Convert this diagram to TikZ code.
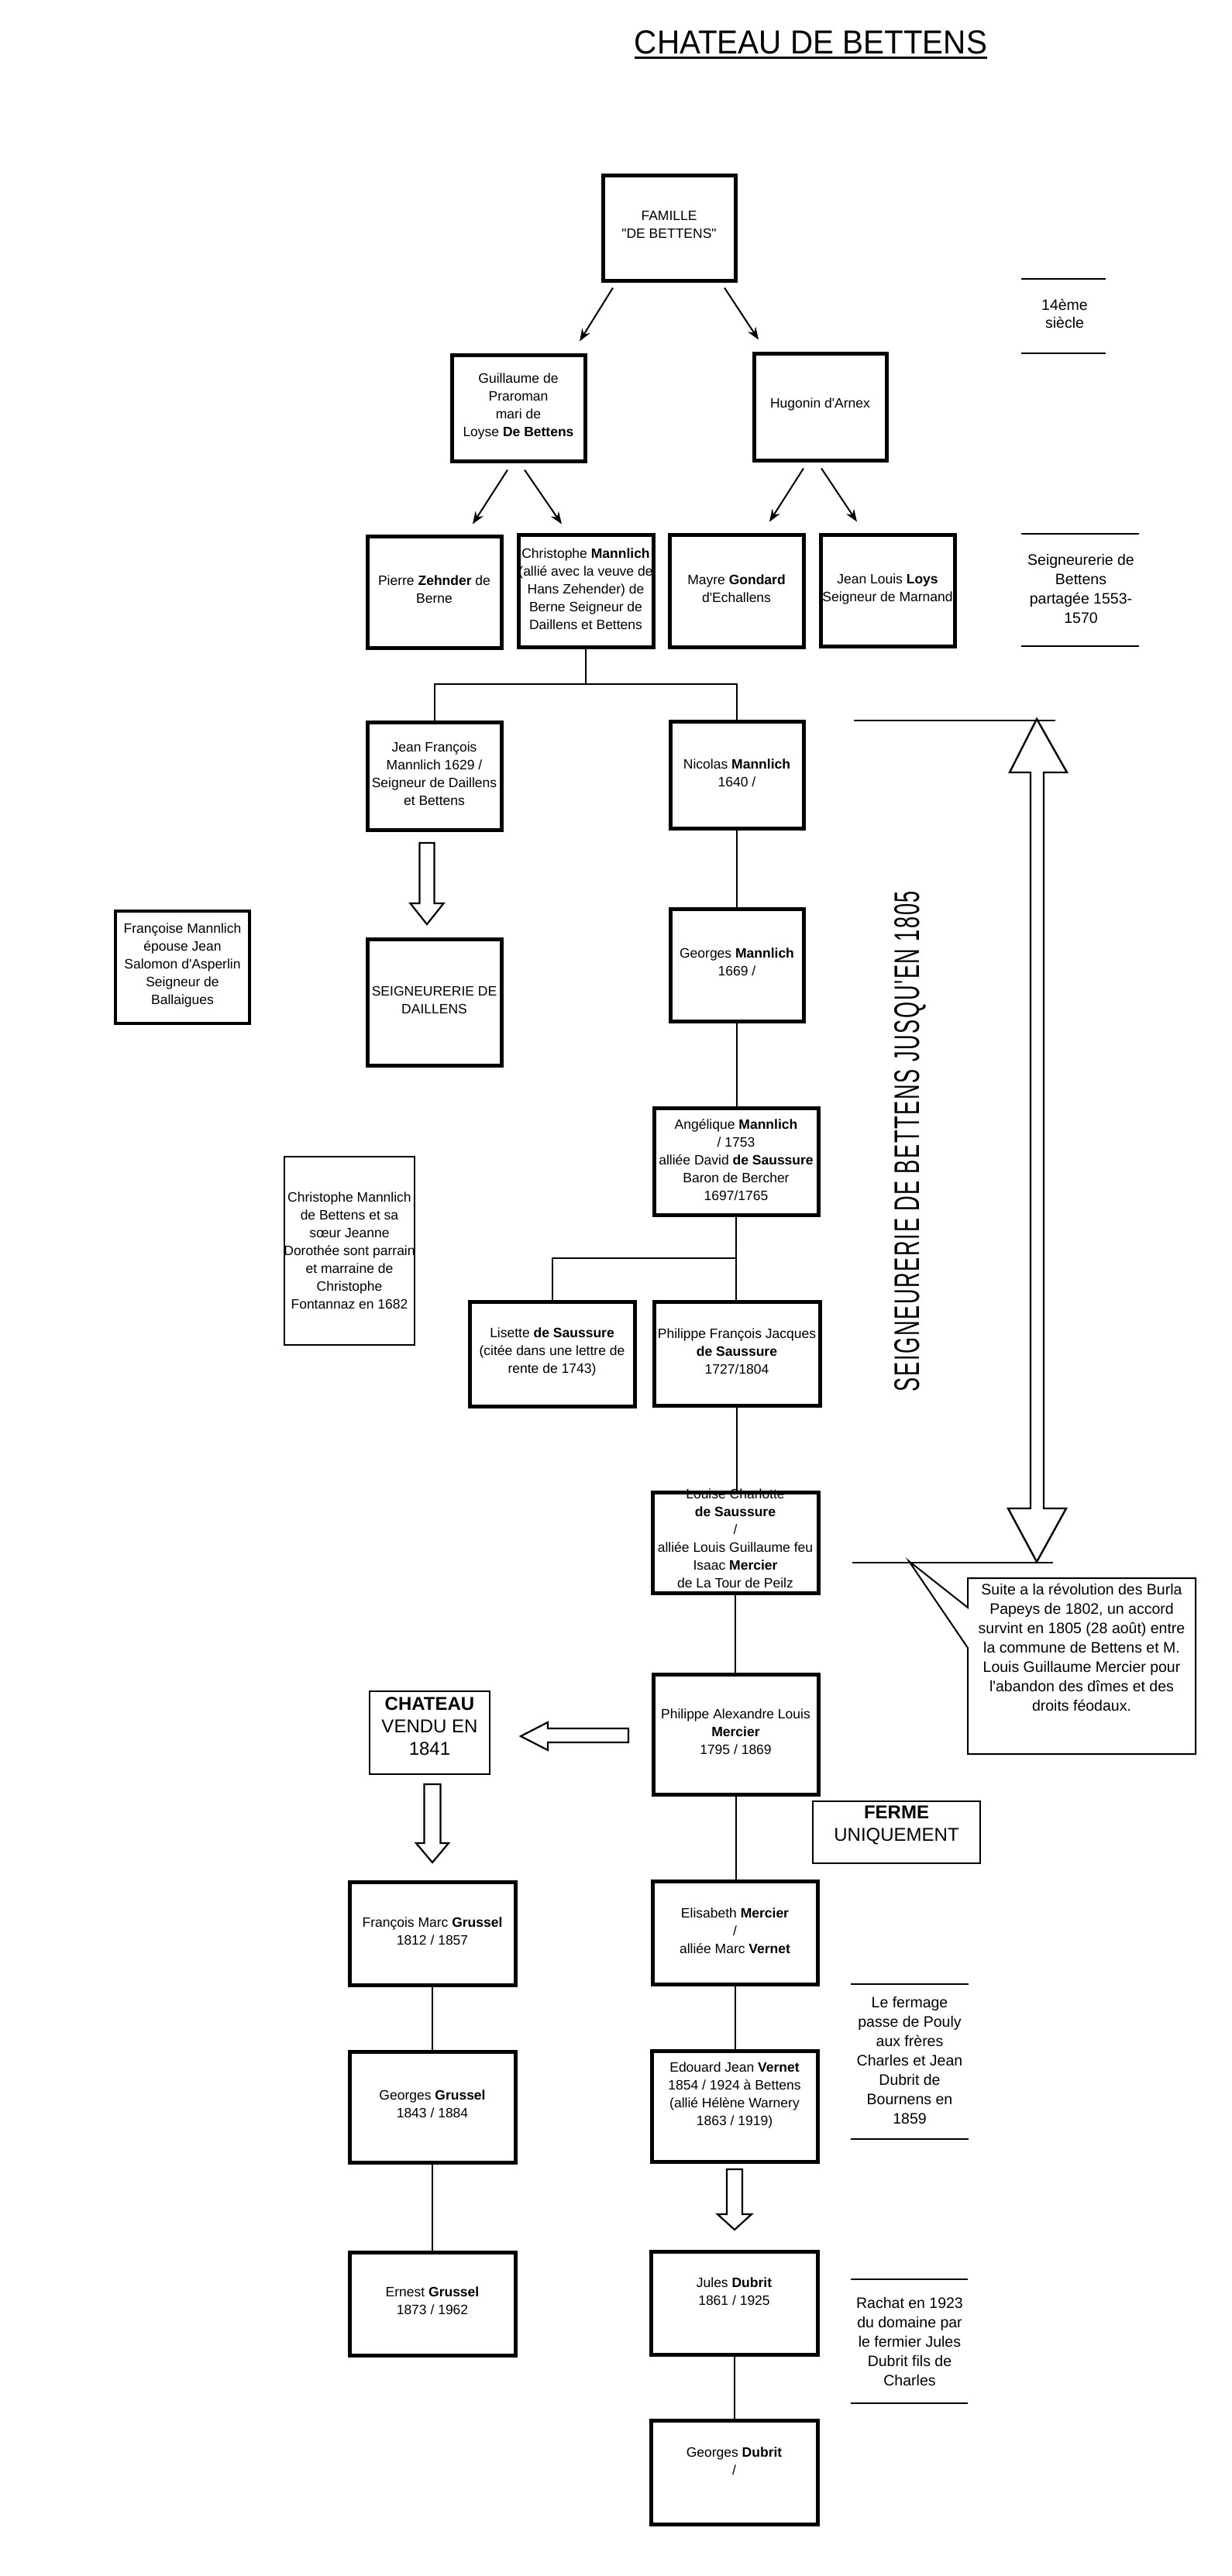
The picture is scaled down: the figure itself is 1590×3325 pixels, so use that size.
\documentclass[tikz,border=0pt]{standalone}
\usepackage{fontspec}
\usepackage{graphicx}
\setmainfont{Liberation Sans}[Ligatures=TeXOff]
\newfontfamily\spacedfont{Liberation Sans}[Ligatures=TeXOff,LetterSpace=6]
\usetikzlibrary{arrows.meta}
\newcommand\bx[8][mbox]{%
  \node[#1t] (#2t) at ({(#3+#5)/2},#7) {#8};
  \pgfmathsetmacro\bxw{(#5-#3-4)*0.5}%
  \pgfmathsetmacro\bxh{(#6-#4-4)*0.5}%
  \node[#1, minimum width=\bxw pt, minimum height=\bxh pt] (#2) at ({(#3+#5)/2},{(#4+#6)/2}) {};}
\begin{document}
\begin{tikzpicture}[x=0.5pt,y=-0.5pt,
  mbox/.style={draw, line width=2.5pt, inner sep=0pt},
  fbox/.style={draw, line width=1.8pt, inner sep=0pt},
  lbox/.style={draw, line width=1.2pt, inner sep=0pt},
  bbox/.style={draw, line width=1.2pt, inner sep=0pt},
  mboxt/.style={inner sep=0pt, align=center, font=\fontsize{8.75}{11.5}\selectfont},
  fboxt/.style={mboxt},
  lboxt/.style={mboxt},
  bboxt/.style={inner sep=0pt, align=center, font=\fontsize{12}{14.5}\selectfont},
  note/.style={inner sep=0pt, align=center, font=\fontsize{9.75}{12.5}\selectfont},
  rule/.style={line width=1.4pt},
  conn/.style={line width=1pt},
  arr/.style={line width=1pt, -{Stealth[length=8pt,width=6pt]}},
  hol/.style={draw, line width=1.1pt, line join=miter, fill=white}]
\useasboundingbox (0,0) rectangle (1590,3325);
\fill[white] (0,0) rectangle (1590,3325);

% title
\node[inner sep=0pt] (title) at (1046.5,54.5) {\resizebox{227.5pt}{15pt}{CHATEAU DE BETTENS}};
\draw[line width=1.6pt] ([shift={(0,4.5)}]title.south west) -- ([shift={(0,4.5)}]title.south east);

% boxes
\bx{famille}{776}{224}{951}{364}{290}{FAMILLE\\"DE BETTENS"}
\bx{guil}{581}{456}{757}{597}{524}{Guillaume de\\Praroman\\mari de\\Loyse \textbf{De Bettens}}
\bx{hugo}{971}{454}{1146}{596}{522}{Hugonin d'Arnex}
\bx{pierre}{472}{690}{649}{838}{761}{Pierre \textbf{Zehnder} de\\Berne}
\bx{chris}{667}{688}{845}{837}{760}{Christophe \textbf{Mannlich}\\(allié avec la veuve de\\Hans Zehender) de\\Berne Seigneur de\\Daillens et Bettens}
\bx{mayre}{862}{688}{1039}{837}{760}{Mayre \textbf{Gondard}\\d'Echallens}
\bx{loys}{1057}{688}{1234}{836}{760}{Jean Louis \textbf{Loys}\\Seigneur de Marnand}
\bx{jf}{472}{930}{649}{1073}{999}{Jean François\\Mannlich 1629 /\\Seigneur de Daillens\\et Bettens}
\bx{nic}{863}{929}{1039}{1071}{998}{Nicolas \textbf{Mannlich}\\1640 /}
\bx{dail}{472}{1210}{649}{1377}{1291}{SEIGNEURERIE DE\\DAILLENS}
\bx[fbox]{franc}{147}{1174}{324}{1323}{1246}{Françoise Mannlich\\épouse Jean\\Salomon d'Asperlin\\Seigneur de\\Ballaigues}
\bx{geo}{863}{1171}{1039}{1320}{1242}{Georges \textbf{Mannlich}\\1669 /}
\bx{ang}{842}{1428}{1058}{1570}{1497}{Angélique \textbf{Mannlich}\\/ 1753\\alliée David \textbf{de Saussure}\\Baron de Bercher\\1697/1765}
\bx[lbox]{chrisl}{365}{1491}{537}{1738}{1614}{Christophe Mannlich\\de Bettens et sa\\sœur Jeanne\\Dorothée sont parrain\\et marraine de\\Christophe\\Fontannaz en 1682}
\bx{lis}{604}{1678}{821}{1817}{1745}{Lisette \textbf{de Saussure}\\(citée dans une lettre de\\rente de 1743)}
\bx{phf}{842}{1678}{1060}{1816}{1744}{Philippe François Jacques\\\textbf{de Saussure}\\1727/1804}
\bx{lou}{840}{1924}{1058}{2058}{1986}{Louise Charlotte\\\textbf{de Saussure}\\/\\alliée Louis Guillaume feu\\Isaac \textbf{Mercier}\\de La Tour de Peilz}
\bx{pha}{841}{2159}{1058}{2318}{2235}{Philippe Alexandre Louis\\\textbf{Mercier}\\1795 / 1869}
\bx[bbox]{chat}{475}{2181}{634}{2292}{2228}{\textbf{CHATEAU}\\VENDU EN\\1841}
\bx[bbox]{ferme}{1047}{2323}{1267}{2407}{2356}{\textbf{FERME}\\UNIQUEMENT}
\bx{fmg}{449}{2427}{667}{2564}{2493}{François Marc \textbf{Grussel}\\1812 / 1857}
\bx{eli}{840}{2426}{1057}{2563}{2492}{Elisabeth \textbf{Mercier}\\/\\alliée Marc \textbf{Vernet}}
\bx{ggr}{449}{2646}{667}{2793}{2716}{Georges \textbf{Grussel}\\1843 / 1884}
\bx{edo}{839}{2645}{1057}{2792}{2704}{Edouard Jean \textbf{Vernet}\\1854 / 1924 à Bettens\\(allié Hélène Warnery\\1863 / 1919)}
\bx{ern}{449}{2905}{667}{3042}{2970}{Ernest \textbf{Grussel}\\1873 / 1962}
\bx{jul}{838}{2904}{1057}{3041}{2958}{Jules \textbf{Dubrit}\\1861 / 1925}
\bx{gdu}{838}{3122}{1057}{3260}{3177}{Georges \textbf{Dubrit}\\/}

% arrows from parents
\draw[arr] ([shift={(-72.5,7)}]famille.south) -- ([shift={(79,-15)}]guil.north);
\draw[arr] ([shift={(71.5,7)}]famille.south) -- ([shift={(-79.5,-15)}]hugo.north);
\draw[arr] ([shift={(-14,9)}]guil.south) -- ([shift={(49.5,-13)}]pierre.north);
\draw[arr] ([shift={(8,9)}]guil.south) -- ([shift={(-31,-11)}]chris.north);
\draw[arr] ([shift={(-21.5,8)}]hugo.south) -- ([shift={(42.5,-14)}]mayre.north);
\draw[arr] ([shift={(1.5,8)}]hugo.south) -- ([shift={(-39.5,-14)}]loys.north);

% tree connectors
\path (chris.south) ++(0,45) coordinate (j1);
\draw[conn] (chris.south) -- (j1);
\draw[conn] (jf.north) -- (jf.north |- j1) -- (nic.north |- j1) -- (nic.north);
\draw[conn] (nic.south) -- (nic.south |- geo.north);
\draw[conn] (geo.south) -- (geo.south |- ang.north);
\path (ang.south) ++(0,53) coordinate (j2);
\draw[conn] (ang.south) -- (ang.south |- phf.north);
\draw[conn] (j2) -| (lis.north);
\draw[conn] (phf.south) -- (phf.south |- lou.north);
\draw[conn] (lou.south) -- (lou.south |- pha.north);
\draw[conn] (pha.south) -- (pha.south |- eli.north);
\draw[conn] (eli.south) -- (eli.south |- edo.north);
\draw[conn] (jul.south) -- (jul.south |- gdu.north);
\draw[conn] (fmg.south) -- (fmg.south |- ggr.north);
\draw[conn] (ggr.south) -- (ggr.south |- ern.north);

% hollow block arrows
\draw[hol] (541.5,1088) -- (560.5,1088) -- (560.5,1166) -- (572.5,1166) -- (551,1193) -- (529.5,1166) -- (541.5,1166) -- cycle;
\draw[hol] (811,2231) -- (707,2231) -- (707,2223) -- (672,2241) -- (707,2259) -- (707,2249) -- (811,2249) -- cycle;
\draw[hol] (547.5,2303) -- (568.5,2303) -- (568.5,2379) -- (579,2379) -- (558,2404) -- (537,2379) -- (547.5,2379) -- cycle;
\draw[hol] (938,2800) -- (958,2800) -- (958,2858) -- (970,2858) -- (948,2878) -- (926,2858) -- (938,2858) -- cycle;

% seigneurerie span
\draw[rule] (1102,930) -- (1362,930);
\draw[rule] (1100,2017) -- (1359,2017);
\draw[hol, line width=1.2pt] (1338,928) -- (1377,997) -- (1347,997) -- (1347,1947) -- (1376,1947) -- (1338,2016) -- (1301,1947) -- (1330,1947) -- (1330,997) -- (1303,997) -- cycle;
\node[inner sep=0pt, rotate=90] (seig) at (1175,1473) {\resizebox{323pt}{16pt}{\spacedfont SEIGNEURERIE DE BETTENS JUSQU'EN 1805}};

% callout
\draw[line width=1pt, line join=miter] (1249,2037) -- (1543,2037) -- (1543,2264) -- (1249,2264) -- (1249,2127) -- (1173,2015) -- (1249,2075) -- cycle;
\node[note] (suite) at (1396,2126) {Suite a la révolution des Burla\\Papeys de 1802, un accord\\survint en 1805 (28 août) entre\\la commune de Bettens et M.\\Louis Guillaume Mercier pour\\l'abandon des dîmes et des\\droits féodaux.};

% side notes
\draw[rule] (1318,360) -- (1427,360);
\draw[rule] (1318,456) -- (1427,456);
\node[note, font=\fontsize{9.75}{11.5}\selectfont] (n14) at (1374,405) {14ème\\siècle};
\draw[rule] (1318,689) -- (1470,689);
\draw[rule] (1318,834) -- (1470,834);
\node[note] (npart) at (1395,760) {Seigneurerie de\\Bettens\\partagée 1553-\\1570};
\draw[rule] (1098,2561) -- (1250,2561);
\draw[rule] (1098,2761) -- (1250,2761);
\node[note] (nferm) at (1174,2660) {Le fermage\\passe de Pouly\\aux frères\\Charles et Jean\\Dubrit de\\Bournens en\\1859};
\draw[rule] (1098,2942) -- (1249,2942);
\draw[rule] (1098,3102) -- (1249,3102);
\node[note] (nrach) at (1174,3022) {Rachat en 1923\\du domaine par\\le fermier Jules\\Dubrit fils de\\Charles};
\end{tikzpicture}
\end{document}
